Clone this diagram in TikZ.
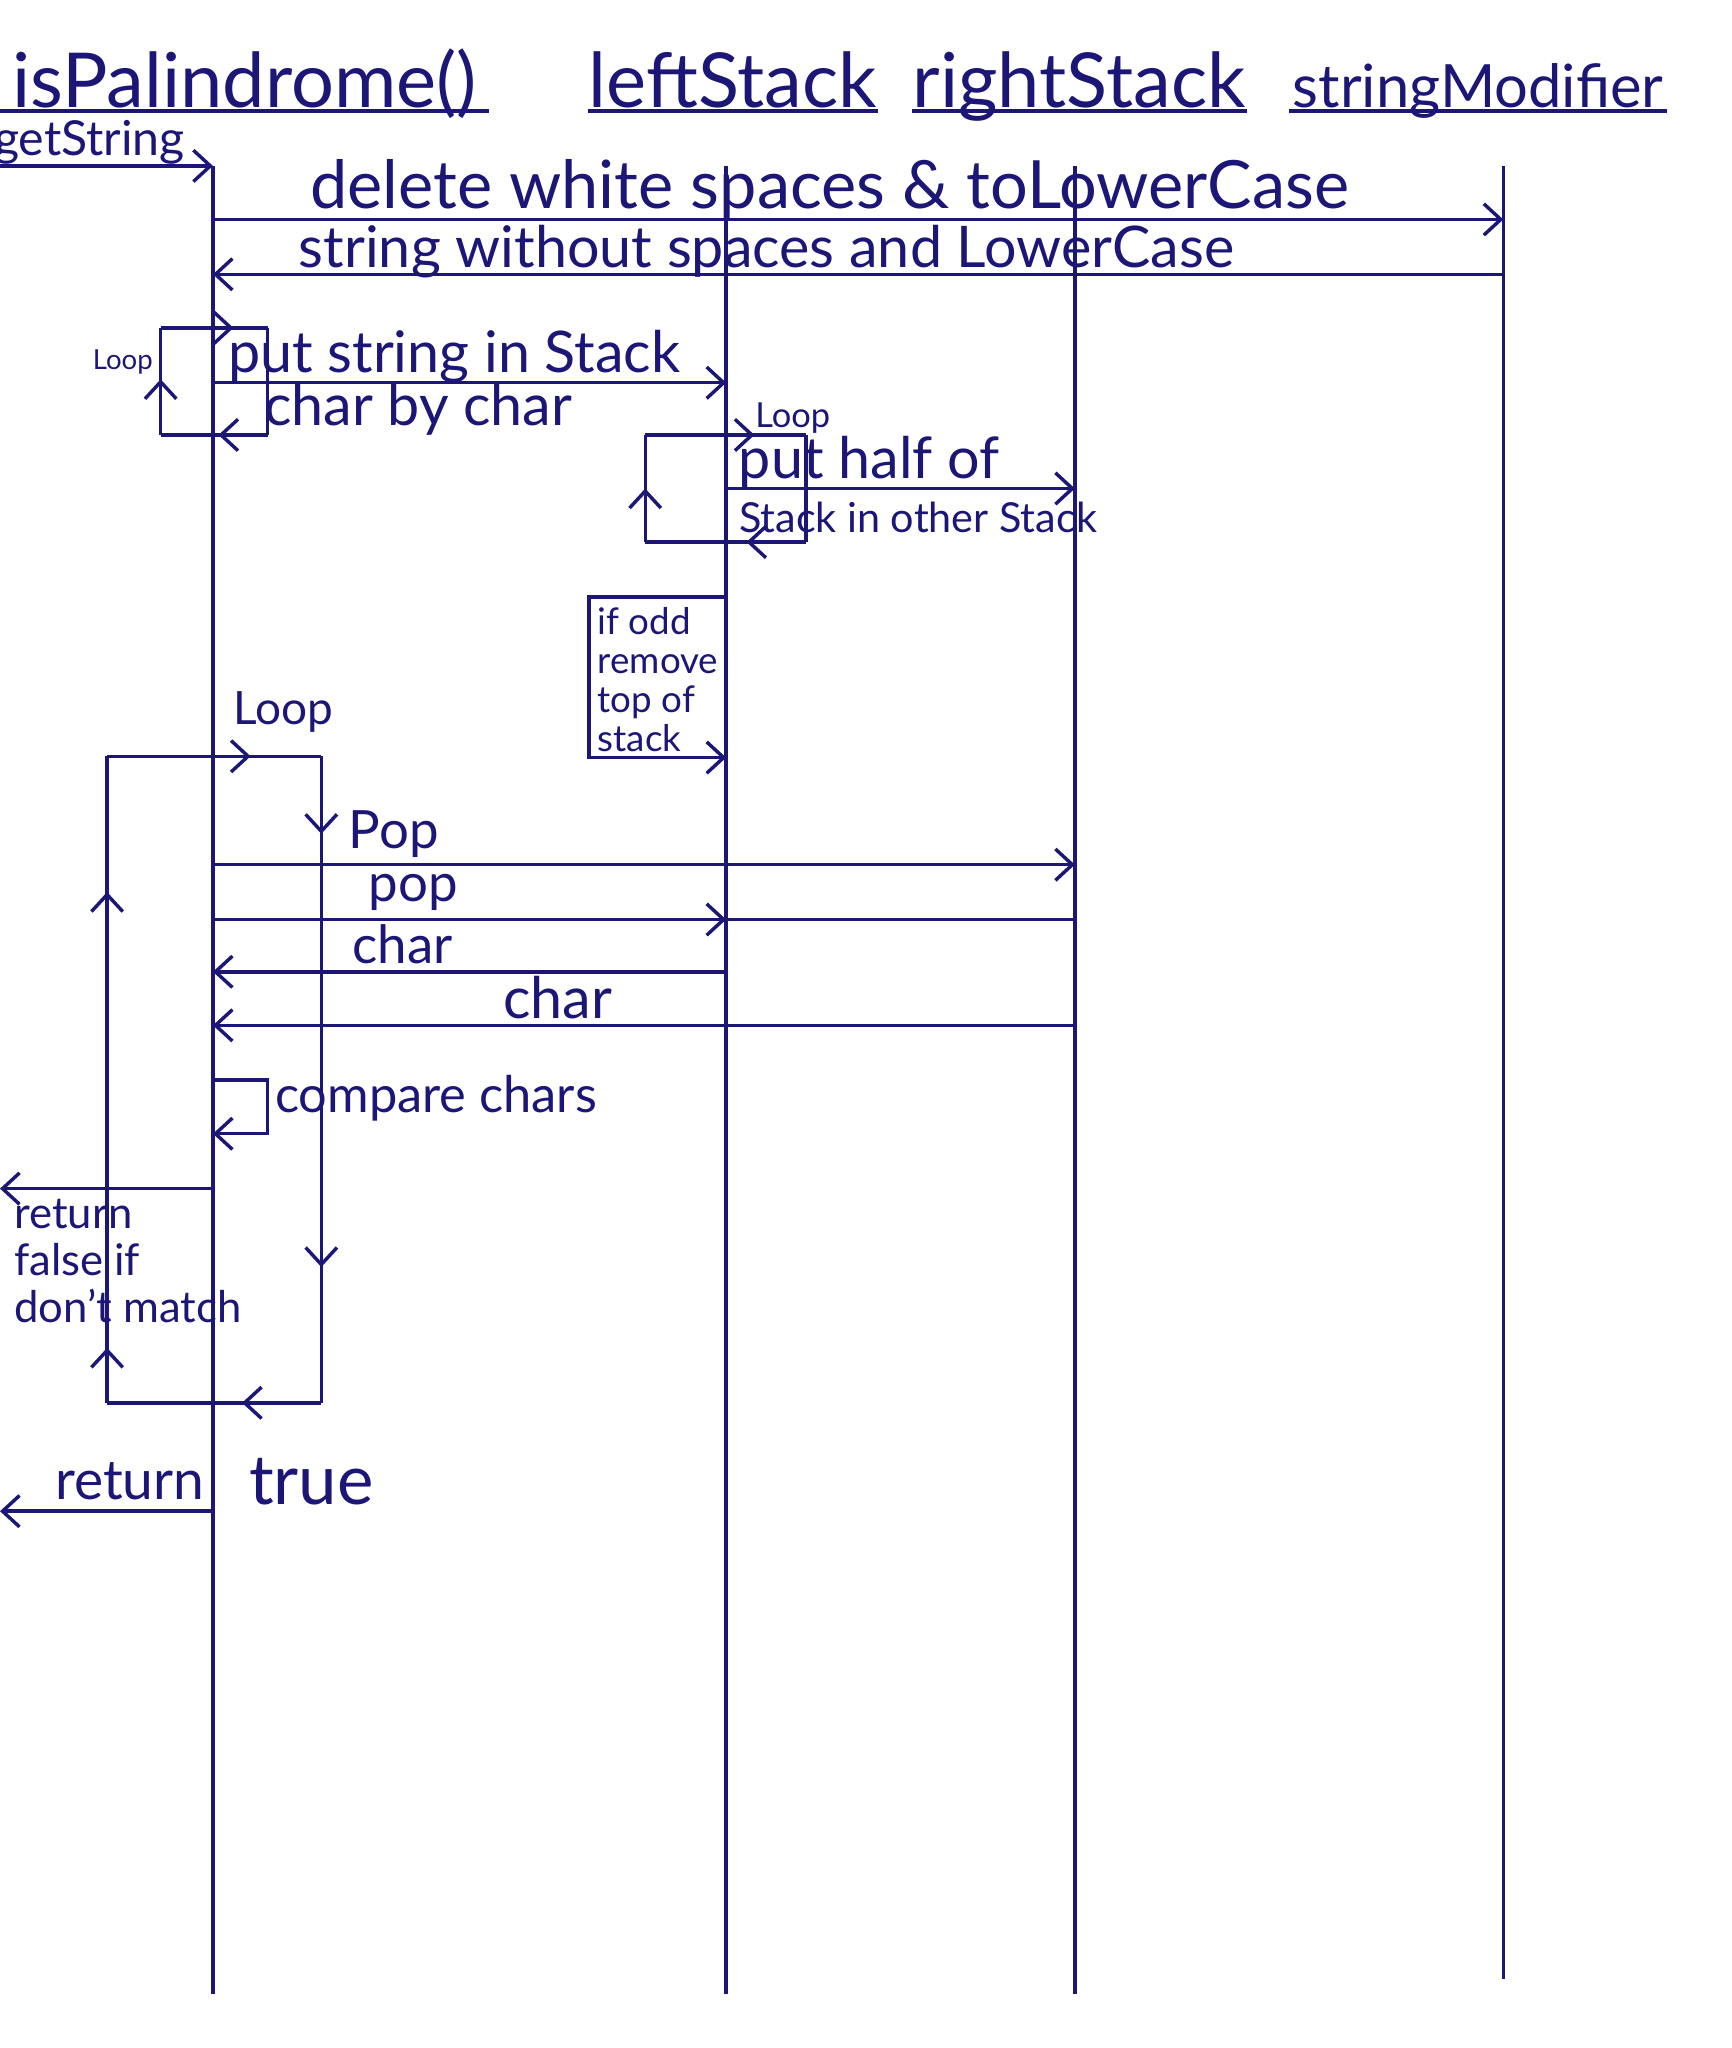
\documentclass[tikz,border=0pt]{standalone}
\usepackage{fontspec}
\setmainfont{Lato}
\usetikzlibrary{positioning,arrows.meta,decorations.markings}
\definecolor{ink}{RGB}{28,22,118}
\tikzset{
  lifeline/.style={ink, line width=0.75pt},
  msgarrow/.style={->, ink, line width=0.75pt},
  plainline/.style={ink, line width=0.75pt},
  headnode/.style={text=ink, inner sep=0pt, anchor=base west, minimum width=#1},
  hand/.style={text=ink, inner sep=0pt, font=\fontsize{#1}{#1}\selectfont},
  notetext/.style={text=ink, inner sep=0pt, align=left, font=\fontsize{#1}{1.07\dimexpr#1pt\relax}\selectfont},
  abovemsg/.style={anchor=base, yshift=#1},
  belowmsg/.style={anchor=base, yshift=-#1},
  tipat/.style={postaction={decorate, decoration={markings, mark=at position #1 with {\arrow{>}}}}}
}
\begin{document}
\begin{tikzpicture}[x=0.01cm, y=-0.01cm, >={Straight Barb[length=1.3mm,width=2.4mm]}]
  \useasboundingbox (0,0) rectangle (1326,1568);

  \node[headnode=3.73cm, font=\fontsize{16.5}{18}\selectfont] (pal) at (0,82) {isPalindrome()};
  \node[headnode=2.08cm, font=\fontsize{16.5}{18}\selectfont] (lst) at (450,82) {leftStack};
  \node[headnode=2.48cm, font=\fontsize{16.5}{18}\selectfont] (rst) at (698,82) {rightStack};
  \node[headnode=2.88cm, font=\fontsize{13}{15}\selectfont] (smod) at (987,82) {stringModifier};
  \draw[plainline] ([yshift=-0.03cm]pal.base west) -- ([yshift=-0.03cm]pal.base east);
  \draw[plainline] ([yshift=-0.03cm]lst.base west) -- ([yshift=-0.03cm]lst.base east);
  \draw[plainline] ([yshift=-0.03cm]rst.base west) -- ([yshift=-0.03cm]rst.base east);
  \draw[plainline] ([yshift=-0.03cm]smod.base west) -- ([yshift=-0.03cm]smod.base east);

  \coordinate (L1) at (163,127);
  \coordinate (L2) at (556,127);
  \coordinate (L3) at (823,127);
  \coordinate (L4) at (1151,127);
  \coordinate (L1end) at (163,1527);
  \coordinate (L2end) at (556,1527);
  \coordinate (L3end) at (823,1527);
  \coordinate (L4end) at (1151,1515);
  \draw[lifeline] (L1) -- (L1end);
  \draw[lifeline] (L2) -- (L2end);
  \draw[lifeline] (L3) -- (L3end);
  \draw[lifeline] (L4) -- (L4end);

  \coordinate (gs) at (0,127);
  \draw[msgarrow] (gs) -- node[hand=10.5, abovemsg=0.08cm, pos=0.42] (gslab) {getString} (L1);

  \coordinate (r1) at (0,168);
  \draw[msgarrow] (L1 |- r1) -- node[hand=14.5, abovemsg=0.08cm, pos=0.478] (m1) {delete white spaces \& toLowerCase} (L4 |- r1);
  \coordinate (r2) at (0,210);
  \draw[msgarrow] (L4 |- r2) -- node[hand=12.5, abovemsg=0.05cm, pos=0.571] (m2) {string without spaces and LowerCase} (L1 |- r2);

  \coordinate (b1nw) at (123,251);
  \coordinate (b1se) at (205,333);
  \draw[plainline, tipat=0.52] (b1nw |- b1se) -- (b1nw);
  \draw[plainline, tipat=0.68] (b1nw) -- (b1se |- b1nw);
  \draw[plainline] (b1se |- b1nw) -- (b1se);
  \draw[plainline, tipat=0.46] (b1se) -- (b1nw |- b1se);
  \node[hand=6] (loop1) at (94,277) {Loop};

  \coordinate (r3) at (0,293);
  \draw[msgarrow] (L1 |- r3) -- node[hand=12.5, abovemsg=0.08cm, pos=0.47] (m3) {put string in Stack}
    node[hand=12.5, belowmsg=0.33cm, pos=0.40] (m3b) {char by char} (L2 |- r3);

  \coordinate (b2nw) at (494,333);
  \coordinate (b2se) at (617,415);
  \draw[plainline, tipat=0.5] (b2nw |- b2se) -- (b2nw);
  \draw[plainline, tipat=0.68] (b2nw) -- (b2se |- b2nw);
  \draw[plainline] (b2se |- b2nw) -- (b2se);
  \draw[plainline, tipat=0.37] (b2se) -- (b2nw |- b2se);
  \node[hand=7.5] (loop2) at (607,320) {Loop};

  \coordinate (r4) at (0,374);
  \draw[msgarrow] (L2 |- r4) -- node[hand=12.5, abovemsg=0.08cm, pos=0.41] (m4) {put half of}
    node[hand=9, belowmsg=0.34cm, pos=0.55] (m4b) {Stack in other Stack} (L3 |- r4);

  \coordinate (odd1) at (451,457);
  \coordinate (odd2) at (451,580);
  \draw[msgarrow] (L2 |- odd1) -- (odd1) -- (odd2) -- (L2 |- odd2);
  \node[notetext=8, anchor=north west] (oddnote) at (457,464) {if odd\\remove\\top of\\stack};

  \coordinate (b3nw) at (82,579);
  \coordinate (b3se) at (246,1074);
  \draw[plainline, tipat=0.085, tipat=0.79] (b3nw |- b3se) -- (b3nw);
  \draw[plainline, tipat=0.67] (b3nw) -- (b3se |- b3nw);
  \draw[plainline, tipat=0.12, tipat=0.79] (b3se |- b3nw) -- (b3se);
  \draw[plainline, tipat=0.37] (b3se) -- (b3nw |- b3se);
  \node[hand=10] (loop3) at (217,545) {Loop};

  \coordinate (r5) at (0,662);
  \draw[msgarrow] (L1 |- r5) -- node[hand=11.5, abovemsg=0.12cm, pos=0.21] (m5) {Pop} (L3 |- r5);
  \coordinate (r6) at (0,704);
  \draw[msgarrow] (L1 |- r6) -- node[hand=11.5, abovemsg=0.14cm, pos=0.39] (m6) {pop} (L2 |- r6);
  \draw[plainline] (L2 |- r6) -- (L3 |- r6);
  \coordinate (r7) at (0,744);
  \draw[msgarrow] (L2 |- r7) -- node[hand=11.5, abovemsg=0.06cm, pos=0.63] (m7) {char} (L1 |- r7);
  \coordinate (r8) at (0,785);
  \draw[msgarrow] (L3 |- r8) -- node[hand=12.5, abovemsg=0.05cm, pos=0.60] (m8) {char} (L1 |- r8);

  \coordinate (cmp1) at (205,827);
  \coordinate (cmp2) at (205,868);
  \draw[msgarrow] (L1 |- cmp1) -- (cmp1) -- (cmp2) -- (L1 |- cmp2);
  \node[hand=11, anchor=base west] (cmplab) at (210,852) {compare chars};

  \coordinate (rf) at (0,910);
  \draw[msgarrow] (L1 |- rf) -- node[notetext=9.5, anchor=north, yshift=-0.07cm, pos=0.4] (rflab) {return\\false if\\don't match} (rf);

  \coordinate (rt) at (0,1157);
  \draw[msgarrow] (L1 |- rt) -- node[hand=12, abovemsg=0.09cm, pos=0.39] (rtlab) {return} (rt);
  \node[hand=15, anchor=base west] (truelab) at (190,1152) {true};
\end{tikzpicture}
\end{document}
